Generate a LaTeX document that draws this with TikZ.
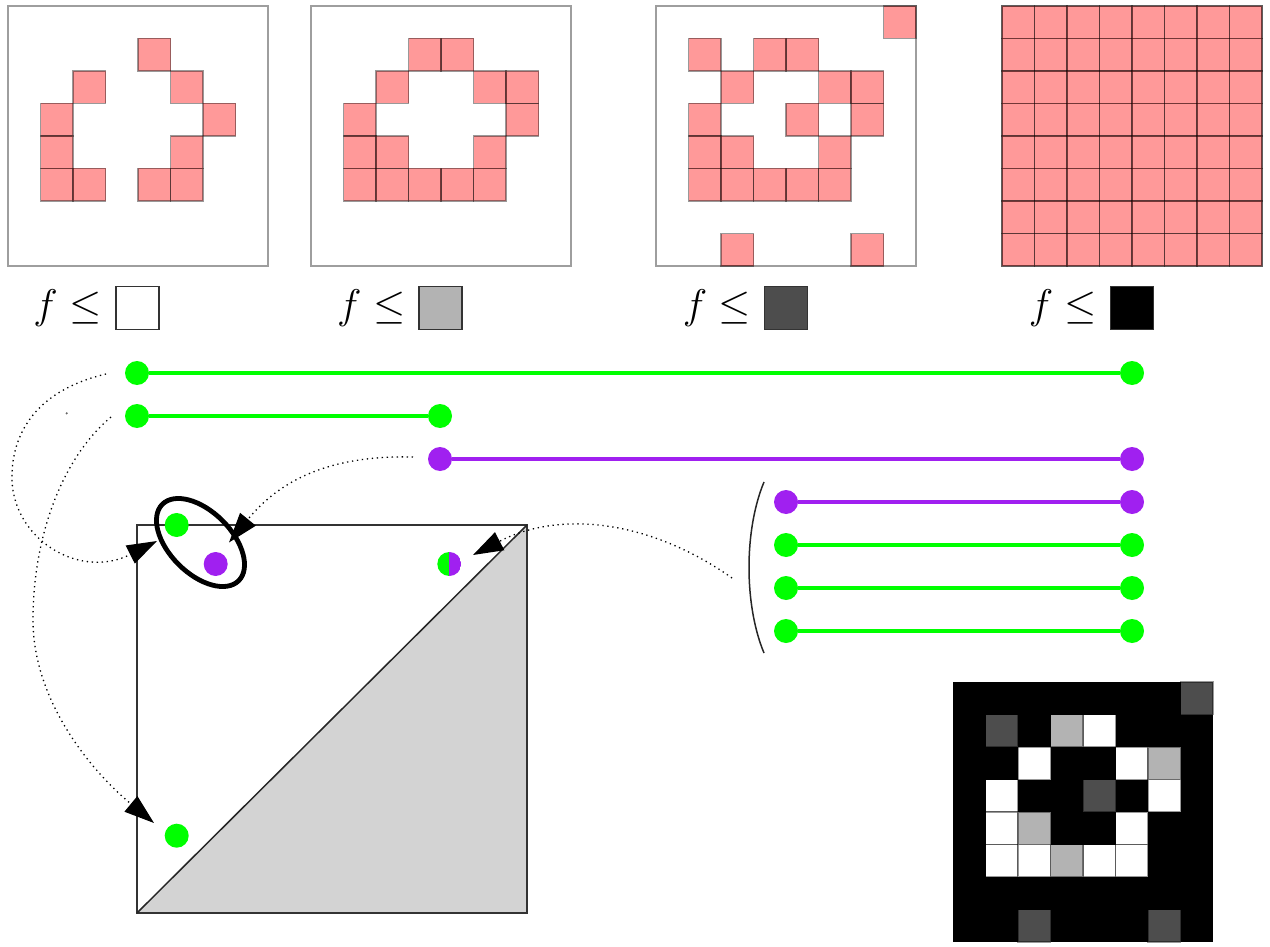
\documentclass[tikz,border=0pt]{standalone}
\usetikzlibrary{arrows.meta}
\definecolor{pgreen}{RGB}{0,255,0}
\definecolor{ppurple}{RGB}{160,32,240}
\definecolor{lgrey}{RGB}{179,179,179}
\definecolor{dgrey}{RGB}{77,77,77}
\definecolor{diagfill}{RGB}{211,211,211}
\begin{document}
\begin{tikzpicture}[x=0.5pt,y=-0.5pt,
  cell/.style={fill=red, fill opacity=0.4, draw=black, draw opacity=0.4, line width=0.6pt},
  pcell/.style={draw=black, draw opacity=0.4, line width=0.6pt},
  panelbox/.style={draw=black!38, line width=0.75pt},
  labsq/.style={draw=black!80, line width=0.7pt, minimum size=21.5pt, inner sep=0pt, outer sep=0pt},
  labtxt/.style={inner sep=0pt, anchor=east, font=\fontsize{19.5}{22}\selectfont},
  gdot/.style={circle, fill=pgreen, minimum size=12pt, inner sep=0pt},
  pdot/.style={circle, fill=ppurple, minimum size=12pt, inner sep=0pt},
  halfdot/.style={circle, minimum size=12pt, inner sep=0pt,
    path picture={\fill[pgreen] (path picture bounding box.south west) rectangle (path picture bounding box.north);
                  \fill[ppurple] (path picture bounding box.south) rectangle (path picture bounding box.north east);}},
  gbar/.style={draw=pgreen, line width=2pt},
  pbar/.style={draw=ppurple, line width=2pt},
  link/.style={draw=black, line width=0.65pt, dash pattern=on 0.65pt off 1.85pt, -{Triangle[length=15pt,width=10pt]}},
]
\useasboundingbox (0,0) rectangle (1270,947);

% ---- sublevel set panels ----
\def\Lwhite{4/1,2/2,5/2,1/3,6/3,1/4,5/4,1/5,2/5,4/5,5/5}
\def\Llight{3/1,6/2,2/4,3/5}
\def\Ldark{7/0,1/1,4/3,2/7,6/7}
\foreach \x in {8,311,656,1002} \draw[panelbox] (\x,6) rectangle ++(260,260);
% panel 1
\foreach \c/\r in \Lwhite \draw[cell] ({8+\c*32.5},{6+\r*32.5}) rectangle ++(32.5,32.5);
% panel 2
\foreach \c/\r in \Lwhite \draw[cell] ({311+\c*32.5},{6+\r*32.5}) rectangle ++(32.5,32.5);
\foreach \c/\r in \Llight \draw[cell] ({311+\c*32.5},{6+\r*32.5}) rectangle ++(32.5,32.5);
% panel 3
\foreach \c/\r in \Lwhite \draw[cell] ({656+\c*32.5},{6+\r*32.5}) rectangle ++(32.5,32.5);
\foreach \c/\r in \Llight \draw[cell] ({656+\c*32.5},{6+\r*32.5}) rectangle ++(32.5,32.5);
\foreach \c/\r in \Ldark \draw[cell] ({656+\c*32.5},{6+\r*32.5}) rectangle ++(32.5,32.5);
% panel 4
\foreach \c in {0,...,7} \foreach \r in {0,...,7}
  \draw[cell] ({1002+\c*32.5},{6+\r*32.5}) rectangle ++(32.5,32.5);

% ---- labels ----
\node[labsq, fill=white] (s1) at (137.5,308) {};
\node[labsq, fill=lgrey] (s2) at (440.3,308) {};
\node[labsq, fill=dgrey] (s3) at (786,308) {};
\node[labsq, fill=black] (s4) at (1132,308) {};
\node[labtxt] (t1) at ([xshift=-7pt]s1.west) {$f\leq$};
\node[labtxt] (t2) at ([xshift=-6.5pt]s2.west) {$f\leq$};
\node[labtxt] (t3) at ([xshift=-6.5pt]s3.west) {$f\leq$};
\node[labtxt] (t4) at ([xshift=-6.5pt]s4.west) {$f\leq$};

% ---- barcode ----
\node[gdot] (b1l) at (137,373) {}; \node[gdot] (b1r) at (1132,373) {};
\node[gdot] (b2l) at (137,416) {}; \node[gdot] (b2r) at (440,416) {};
\node[pdot] (b3l) at (440,459) {}; \node[pdot] (b3r) at (1132,459) {};
\node[pdot] (b4l) at (786,502) {}; \node[pdot] (b4r) at (1132,502) {};
\node[gdot] (b5l) at (786,545) {}; \node[gdot] (b5r) at (1132,545) {};
\node[gdot] (b6l) at (786,588) {}; \node[gdot] (b6r) at (1132,588) {};
\node[gdot] (b7l) at (786,631) {}; \node[gdot] (b7r) at (1132,631) {};
\draw[gbar] (b1l) -- (b1r);
\draw[gbar] (b2l) -- (b2r);
\draw[pbar] (b3l) -- (b3r);
\draw[pbar] (b4l) -- (b4r);
\draw[gbar] (b5l) -- (b5r);
\draw[gbar] (b6l) -- (b6r);
\draw[gbar] (b7l) -- (b7r);
\coordinate (brt) at (764,482); \coordinate (brb) at (764,653);
\draw[black!85, line width=0.75pt] (brt) .. controls (744,530) and (744,605) .. (brb);

% ---- persistence diagram ----
\coordinate (pdSW) at (137,913); \coordinate (pdNE) at (527,525);
\coordinate (pdNW) at (137,525); \coordinate (pdSE) at (527,913);
\fill[diagfill] (pdSW) -- (pdNE) -- (pdSE) -- cycle;
\draw[black!80, line width=0.75pt] (pdNW) rectangle (pdSE);
\draw[black!85, line width=0.75pt] (pdSW) -- (pdNE);
\node[gdot] (d1) at (176.7,525) {};
\node[pdot] (d2) at (215.7,564) {};
\node[halfdot] (d3) at (449.3,564) {};
\node[gdot] (d4) at (176.7,835.7) {};
\coordinate (ec) at (200.5,542.5);
\draw[line width=2.4pt, rotate around={-45:(ec)}] (ec) ellipse (27pt and 15.5pt);

% ---- dotted links ----
\fill[black!60] (66.7,413.3) circle (0.6pt);
\coordinate (aS) at (106,374); \coordinate (aE) at (157,541);
\draw[link] (aS) .. controls (30,392) and (11,440) .. (12,480) .. controls (14,540) and (80,580) .. (aE);
\coordinate (bS) at (111,417); \coordinate (bE) at (154,823);
\draw[link] (bS) .. controls (60,460) and (33,540) .. (33,620) .. controls (33,700) and (90,770) .. (bE);
\coordinate (cS) at (413,457); \coordinate (cE) at (229,542.5);
\draw[link] (cS) .. controls (330,455) and (280,480) .. (cE);
\coordinate (dS) at (732,578); \coordinate (dE) at (473,555);
\draw[link] (dS) .. controls (650,520) and (560,510) .. (dE);

% ---- image ----
\fill[black] (953,682) rectangle ++(260,260);
\foreach \c/\r in \Lwhite \draw[pcell, fill=white] ({953+\c*32.5},{682+\r*32.5}) rectangle ++(32.5,32.5);
\foreach \c/\r in \Llight \draw[pcell, fill=lgrey] ({953+\c*32.5},{682+\r*32.5}) rectangle ++(32.5,32.5);
\foreach \c/\r in \Ldark \draw[pcell, fill=dgrey] ({953+\c*32.5},{682+\r*32.5}) rectangle ++(32.5,32.5);
\end{tikzpicture}
\end{document}
